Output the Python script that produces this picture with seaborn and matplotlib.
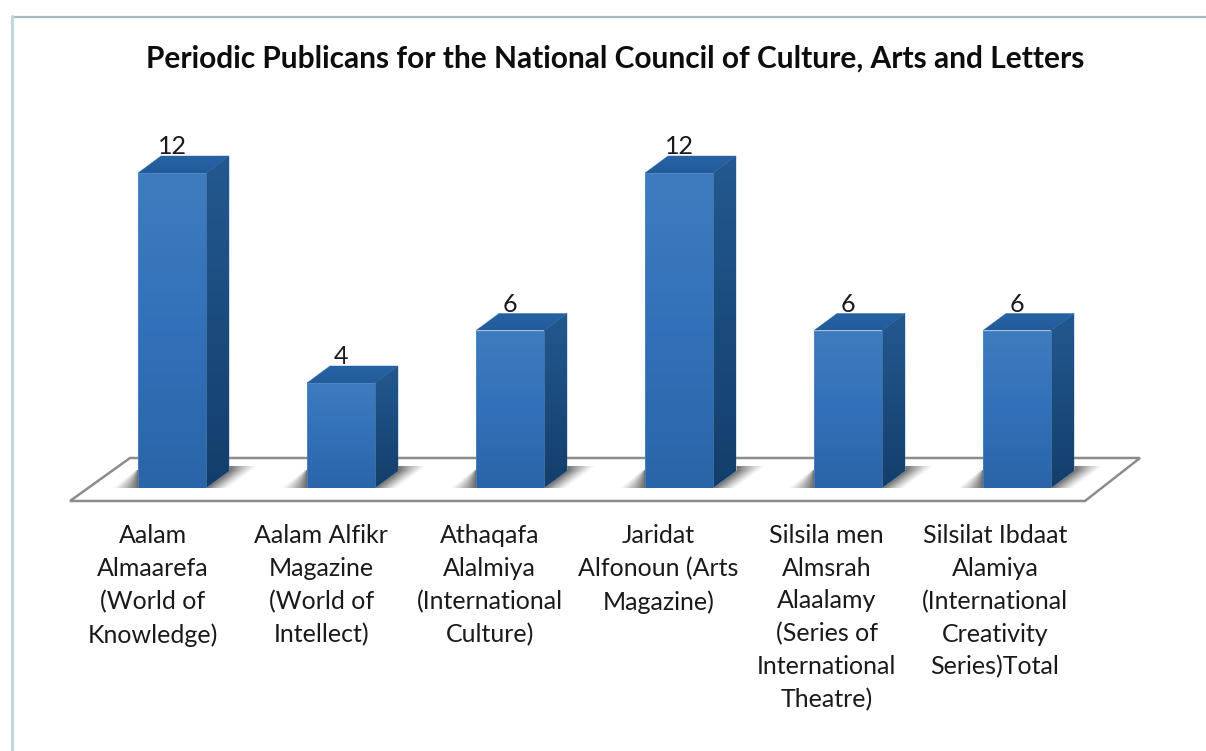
"""Periodic publications bar chart, drawn with a box-style 3D look."""
import matplotlib
matplotlib.use("Agg")
import matplotlib.pyplot as plt
import matplotlib.transforms as mtrans
import numpy as np
import pandas as pd
import seaborn as sns
from matplotlib.colors import LinearSegmentedColormap, to_rgb
from matplotlib.lines import Line2D
from matplotlib.patches import Polygon

categories = [
    "Aalam\nAlmaarefa\n(World of\nKnowledge)",
    "Aalam Alfikr\nMagazine\n(World of\nIntellect)",
    "Athaqafa\nAlalmiya\n(International\nCulture)",
    "Jaridat\nAlfonoun (Arts\nMagazine)",
    "Silsila men\nAlmsrah\nAlaalamy\n(Series of\nInternational\nTheatre)",
    "Silsilat Ibdaat\nAlamiya\n(International\nCreativity\nSeries)Total",
]
values = [12, 4, 6, 12, 6, 6]
title = "Periodic Publicans for the National Council of Culture, Arts and Letters"

W, H = 1206, 751
BASE_Y = 488      # pixel row of the category baseline
SPACING = 169     # pixels per category
UNIT = 26.25      # pixels per value unit
DX, DY = 23 / SPACING, 17 / UNIT   # box depth in data units

sns.set_theme(style="white")
plt.rcParams["font.family"] = ["Lato", "DejaVu Sans"]

front_cmap = LinearSegmentedColormap.from_list("front", ["#3f7cbf", "#3270b9", "#2a65a8"])
side_cmap = LinearSegmentedColormap.from_list("side", ["#235990", "#133e6b"])
top_cmap = LinearSegmentedColormap.from_list("top", ["#2662a4", "#235c9a"])


def gradient_fill(ax, patch, cmap, zorder):
    """Fill a patch with a vertical gradient, clipped to the patch outline."""
    xy = patch.get_path().vertices
    xy = patch.get_patch_transform().transform(xy)
    grad = np.linspace(0, 1, 256).reshape(-1, 1)
    im = ax.imshow(
        grad, cmap=cmap, aspect="auto", zorder=zorder, interpolation="bilinear",
        extent=[xy[:, 0].min(), xy[:, 0].max(), xy[:, 1].min(), xy[:, 1].max()],
    )
    im.set_clip_path(patch)


def soft_shadow(ax, anchor, width_px, height_px, start, end, zorder):
    """Grey floor shadow; per row it fades from start(v) to end(v) pixels off the bar."""
    px = np.linspace(0, abs(width_px), 160)
    v = np.linspace(1, 0, 60)[:, None]
    s, e = start(v), end(v)
    alpha = 0.9 * np.clip(1 - (px[None, :] - s) / (e - s), 0, 1) ** 1.2
    alpha[px[None, :].repeat(60, axis=0) < s] = 0
    rgba = np.zeros((60, 160, 4))
    rgba[..., :3] = to_rgb("#5a5a5a")
    rgba[..., 3] = alpha if width_px > 0 else alpha[:, ::-1]
    x_far = anchor + width_px / SPACING
    ax.imshow(
        rgba, aspect="auto", zorder=zorder, interpolation="bilinear",
        extent=[min(anchor, x_far), max(anchor, x_far), 0, height_px / UNIT],
    )


df = pd.DataFrame({"publication": categories, "issues": values})

fig = plt.figure(figsize=(W / 100, H / 100), dpi=100, facecolor="white")
ax = fig.add_axes([87.5 / W, (H - BASE_Y) / H, SPACING * 6 / W, 14 * UNIT / H])
ax.patch.set_alpha(0)

sns.barplot(data=df, x="publication", y="issues", color="#3270b9", width=68 / SPACING, ax=ax, zorder=4)
ax.set_xlim(-0.5, 5.5)
ax.set_ylim(0, 14)

# floor plate behind the bars
x_px = lambda px: (px - 172) / SPACING
y_px = lambda px: (BASE_Y - px) / UNIT
floor = Polygon(
    [(x_px(70), y_px(501)), (x_px(1085), y_px(501)), (x_px(1140), y_px(458)), (x_px(130), y_px(458))],
    closed=True, fc="white", ec="#8c8c8c", lw=1.8, zorder=1, clip_on=False,
)
ax.add_patch(floor)

for bar in ax.containers[0]:
    x0, w, h = bar.get_x(), bar.get_width(), bar.get_height()
    x1 = x0 + w
    soft_shadow(ax, x0, -26, 18, lambda v: 0 * v, lambda v: 26 - 24 * v, 2)
    soft_shadow(ax, x1, 52, 22, lambda v: np.minimum(v * 29, 23), lambda v: 22 + 30 * v, 2)

    side = Polygon([(x1, 0), (x1 + DX, DY), (x1 + DX, h + DY), (x1, h)], closed=True,
                   fc="none", ec="#5d87b5", lw=0.4, zorder=3)
    top = Polygon([(x0, h), (x0 + DX, h + DY), (x1 + DX, h + DY), (x1, h)], closed=True,
                  fc="none", ec="#5d87b5", lw=0.4, zorder=3)
    ax.add_patch(side)
    ax.add_patch(top)
    gradient_fill(ax, side, side_cmap, 3)
    gradient_fill(ax, top, top_cmap, 3)

    bar.set_facecolor("none")
    bar.set_edgecolor("#5f8fc4")
    bar.set_linewidth(0.4)
    gradient_fill(ax, bar, front_cmap, 3.5)

ax.set_xlim(-0.5, 5.5)
ax.set_ylim(0, 14)

labels = ax.bar_label(ax.containers[0], padding=10.5, fontsize=18, color="#1a1a1a", zorder=6)
for lab in labels:
    lab.set_transform(lab.get_transform() + mtrans.ScaledTranslation(-3 / 100, 0, fig.dpi_scale_trans))

sns.despine(ax=ax, left=True, bottom=True)
ax.set_xlabel("")
ax.set_ylabel("")
ax.set_yticks([])
ax.tick_params(axis="x", length=0, pad=26, labelsize=18, labelcolor="#1a1a1a")
for i, tick in enumerate(ax.get_xticklabels()):
    # the category text drifts left of its bar a little more with each column
    shift = mtrans.ScaledTranslation((-19 - 0.6 * i) / 100, 0, fig.dpi_scale_trans)
    tick.set_transform(tick.get_transform() + shift)
    tick.set_linespacing(1.51)

fig.text(615 / W, 1 - 59 / H, title, ha="center", va="center", fontsize=21.5,
         fontweight="bold", color="#0d0d0d")

# chart frame: darker along the top, pale down the left
fig.add_artist(Line2D([12 / W, 1], [1 - 16.5 / H] * 2, color="#a3bcc0", lw=1.6))
fig.add_artist(Line2D([12 / W, 12 / W], [0, 1 - 16 / H], color="#c3d6da", lw=2.2))

fig.savefig("out.png", dpi=100)
